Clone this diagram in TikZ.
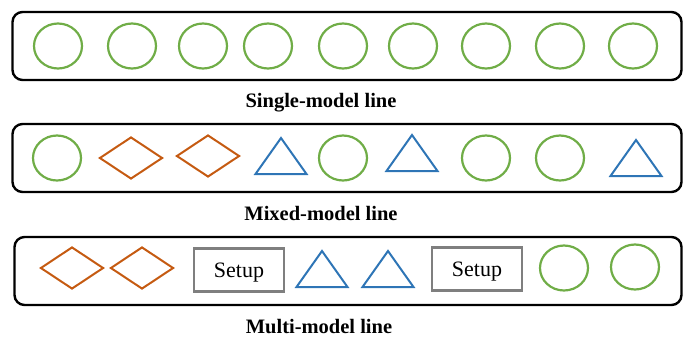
\documentclass[tikz,border=0pt]{standalone}
\usepackage{fontspec}
\setmainfont{Liberation Serif}
\usetikzlibrary{shapes.geometric}
\definecolor{partA}{HTML}{70AD47}
\definecolor{partB}{HTML}{C55A11}
\definecolor{partC}{HTML}{2E75B6}
\definecolor{setupgray}{HTML}{7F7F7F}
\begin{document}
\begin{tikzpicture}[x=1pt,y=-1pt,
		linebox/.style={draw,line width=2.4pt,rounded corners=10pt,minimum width=669pt,minimum height=68pt,inner sep=0pt},
		prodA/.style={draw=partA,line width=2.2pt,ellipse,minimum width=48pt,minimum height=45pt,inner sep=0pt},
		prodB/.style={draw=partB,line width=2pt,diamond,minimum width=63pt,minimum height=42pt,inner sep=0pt},
		prodC/.style={draw=partC,line width=2pt,isosceles triangle,isosceles triangle stretches,shape border rotate=90,minimum width=51pt,minimum height=36pt,inner sep=0pt,anchor=south},
		setupbox/.style={draw=setupgray,line width=2.4pt,minimum width=90pt,minimum height=43pt,inner sep=0pt,text depth=0pt,font=\fontsize{22}{24}\selectfont},
		linename/.style={anchor=base,font=\fontsize{20.5}{22}\selectfont\bfseries}]
	\useasboundingbox (0,0) rectangle (683,338);
	% single-model line
	\node[linebox] (single) at (347,46) {};
	\foreach \x [count=\i] in {58,132,203,268,343,413,486,560,633}
		\node[prodA] (s\i) at (\x,46) {};
	\node[linename] (singlename) at (321,107) {Single-model line};
	% mixed-model line
	\node[linebox] (mixed) at (347,158) {};
	\node[prodA] (m1) at (57,158) {};
	\node[prodB] (m2) at (131,158) {};
	\node[prodB] (m3) at (208,156) {};
	\node[prodC] (m4) at (281,175) {};
	\node[prodA] (m5) at (343,158) {};
	\node[prodC] (m6) at (412,172) {};
	\node[prodA] (m7) at (486,158) {};
	\node[prodA] (m8) at (560,158) {};
	\node[prodC] (m9) at (636,177) {};
	\node[linename] (mixedname) at (321,220) {Mixed-model line};
	% multi-model line
	\node[linebox,minimum width=667pt] (multi) at (348,271) {};
	\node[prodB] (u1) at (72,268) {};
	\node[prodB] (u2) at (142,268) {};
	\node[setupbox] (u3) at (239,270) {Setup};
	\node[prodC] (u4) at (322,288) {};
	\node[prodC] (u5) at (388,288) {};
	\node[setupbox] (u6) at (477,269) {Setup};
	\node[prodA] (u7) at (564,268) {};
	\node[prodA] (u8) at (635,267) {};
	\node[linename] (multiname) at (319,333) {Multi-model line};
\end{tikzpicture}
\end{document}
